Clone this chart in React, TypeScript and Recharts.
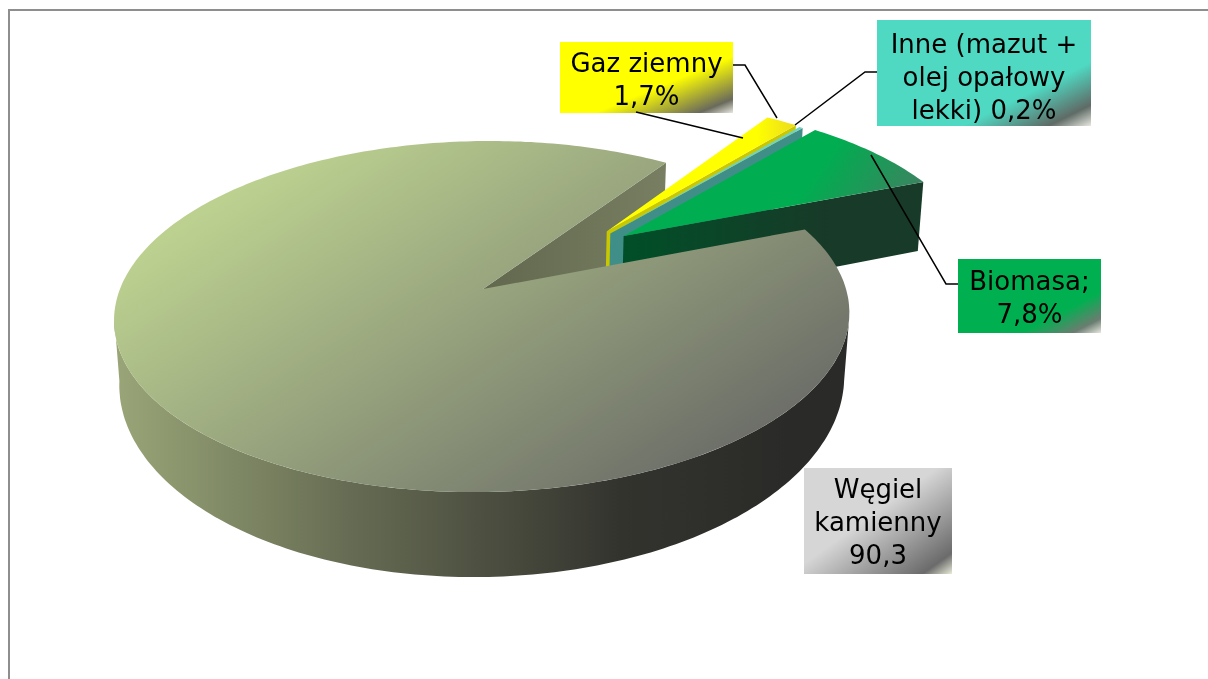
import { PieChart, Pie } from "recharts"

// Struktura zużycia paliw (%)
const categories = ["Węgiel kamienny", "Gaz ziemny", "Inne", "Biomasa"]
const values = [90.3, 1.7, 0.2, 7.8]
const labelLines = [
  ["Węgiel", "kamienny", "90,3"],
  ["Gaz ziemny", "1,7%"],
  ["Inne (mazut +", "olej opałowy", "lekki) 0,2%"],
  ["Biomasa;", "7,8%"],
]

const chartData = categories.map((name, i) => ({ name, value: values[i] }))

// page offset of the svg (body margin + frame)
const OX = 10
const OY = 11

// pseudo-3D camera for the pie
const TILT_B = 171.2
const PERSP_K = -0.157
const PERSP_M = 0.014
const DEPTH = 76
const SHEAR = -8
// the lower edge of the round wall bulges a bit more than a plain offset
const RIM_STRETCH = 1.08
const RIM_DEPTH = 62

// explosion of each slice, in radius units
const explode = [
  [0, 0],
  [0.352, 0.355],
  [0.362, 0.342],
  [0.4, 0.325],
]

const topFill = ["url(#coalTop)", "url(#gasTop)", "#6fd3c3", "url(#bioTop)"]
const faceFill = ["url(#coalFace)", "#c9c800", "#3f8f88", "url(#bioFace)"]

const boxes = [
  { x: 804, y: 468, w: 148, h: 106, fill: "url(#boxCoal)", base: 498, step: 33 },
  { x: 560, y: 42, w: 173, h: 71, fill: "url(#boxGas)", base: 72, step: 33 },
  { x: 877, y: 20, w: 214, h: 106, fill: "url(#boxOther)", base: 53, step: 33 },
  { x: 958, y: 259, w: 143, h: 74, fill: "url(#boxBio)", base: 290, step: 33 },
]

const leaders = [
  [],
  [
    [[733, 65], [745, 65], [777, 118]],
    [[636, 112], [743, 138]],
  ],
  [[[877, 72], [865, 72], [795, 125]]],
  [[[958, 284], [946, 284], [871, 155]]],
]

function project(cx: number, cy: number, r: number, u: number, up: number, z: number) {
  const v = -up
  const w = 1 + PERSP_K * v + PERSP_M * z
  return [cx + (r * u + SHEAR * v) / w, cy + (TILT_B * v + DEPTH * z) / w]
}

function toPath(pts: number[][]) {
  return "M" + pts.map((p) => p[0].toFixed(1) + " " + p[1].toFixed(1)).join("L") + "Z"
}

function rimPoint(cx: number, cy: number, r: number, a: number, z: number, e: number[]) {
  const rad = (a * Math.PI) / 180
  return project(cx, cy, r, e[0] + Math.cos(rad), e[1] + Math.sin(rad), z)
}

function arcPoints(cx: number, cy: number, r: number, from: number, to: number, z: number, e: number[]) {
  const n = Math.max(2, Math.ceil(Math.abs(to - from)))
  const pts = []
  for (let i = 0; i <= n; i++) pts.push(rimPoint(cx, cy, r, from + ((to - from) * i) / n, z, e))
  return pts
}

function lowerRim(cx: number, cy: number, r: number, from: number, to: number) {
  const n = Math.ceil(Math.abs(to - from))
  const pts = []
  for (let i = 0; i <= n; i++) {
    const rad = ((from + ((to - from) * i) / n) * Math.PI) / 180
    const v = -Math.sin(rad)
    const w = 1 + PERSP_K * v + PERSP_M
    pts.push([cx + (r * Math.cos(rad) + SHEAR * v) / w, cy + (TILT_B * RIM_STRETCH * v + RIM_DEPTH) / w])
  }
  return pts
}

// layer 0: side walls of the big slice + the exploded slices; layer 1: top of the big slice
function SliceShape(props: any, layer: number) {
  const { cx, cy, outerRadius: r, startAngle, endAngle, index } = props
  const i = index ?? categories.indexOf(props.name)
  const e = explode[i]
  const apex = project(cx, cy, r, e[0], e[1], 0)
  const apexLow = project(cx, cy, r, e[0], e[1], 1)
  const top = [apex, ...arcPoints(cx, cy, r, startAngle, endAngle, 0, e)]
  if (layer === 1) {
    return i === 0 ? <path d={toPath(top)} fill={topFill[0]} stroke="none" /> : <g />
  }
  const face = [apex, rimPoint(cx, cy, r, endAngle, 0, e), rimPoint(cx, cy, r, endAngle, 1, e), apexLow]
  const rim =
    i === 0
      ? [...arcPoints(cx, cy, r, -9, -171, 0, e), ...lowerRim(cx, cy, r, -171, -9)]
      : null
  return (
    <g>
      <path d={toPath(face)} fill={faceFill[i]} />
      {rim && <path d={toPath(rim)} fill="url(#coalWall)" />}
      {i !== 0 && <path d={toPath(top)} fill={topFill[i]} />}
    </g>
  )
}

function BoxLabel(props: any) {
  const i = props.index
  const b = boxes[i]
  return (
    <g>
      <rect x={b.x - OX} y={b.y - OY} width={b.w} height={b.h} fill={b.fill} />
      {leaders[i].map((line, k) => (
        <polyline
          key={k}
          points={line.map((p) => `${p[0] - OX},${p[1] - OY}`).join(" ")}
          fill="none"
          stroke="#000"
          strokeWidth={1.5}
        />
      ))}
      <text textAnchor="middle" fontFamily="DejaVu Sans" fontSize={26} fill="#000">
        {labelLines[i].map((t, k) => (
          <tspan key={k} x={b.x + b.w / 2 - OX} y={b.base + k * b.step - OY}>
            {t}
          </tspan>
        ))}
      </text>
    </g>
  )
}

function boxGradient(id: string, base: string, mid: string, corner: string, solidTo: string) {
  return (
    <linearGradient id={id} x1="0" y1="0" x2="1" y2="1">
      <stop offset="0" stopColor={base} />
      <stop offset={solidTo} stopColor={base} />
      <stop offset="0.9" stopColor={mid} />
      <stop offset="1" stopColor={corner} />
    </linearGradient>
  )
}

export default function App() {
  return (
    <div
      style={{
        position: "fixed",
        left: 8,
        top: 9,
        width: 1200,
        height: 670,
        boxSizing: "border-box",
        borderTop: "2px solid #8e8e8e",
        borderLeft: "2px solid #8e8e8e",
        overflow: "hidden",
      }}
    >
      <PieChart width={1198} height={668} margin={{ top: 0, right: 0, bottom: 0, left: 0 }}>
        <defs>
          <linearGradient id="coalTop" gradientUnits="userSpaceOnUse" x1="120" y1="249" x2="406" y2="681">
            <stop offset="0" stopColor="#bcd190" />
            <stop offset="1" stopColor="#686966" />
          </linearGradient>
          <linearGradient id="coalWall" gradientUnits="userSpaceOnUse" x1="103" y1="0" x2="780" y2="0">
            <stop offset="0" stopColor="#9aa678" />
            <stop offset="0.35" stopColor="#666c53" />
            <stop offset="0.75" stopColor="#33332e" />
            <stop offset="1" stopColor="#2a2a28" />
          </linearGradient>
          <linearGradient id="coalFace" gradientUnits="userSpaceOnUse" x1="474" y1="0" x2="655" y2="0">
            <stop offset="0" stopColor="#62684e" />
            <stop offset="1" stopColor="#777e61" />
          </linearGradient>
          <linearGradient id="gasTop" gradientUnits="userSpaceOnUse" x1="594" y1="0" x2="785" y2="0">
            <stop offset="0.8" stopColor="#ffff00" />
            <stop offset="1" stopColor="#ecdc1e" />
          </linearGradient>
          <linearGradient id="bioTop" gradientUnits="userSpaceOnUse" x1="780" y1="110" x2="900" y2="190">
            <stop offset="0.35" stopColor="#00ad50" />
            <stop offset="1" stopColor="#3b8460" />
          </linearGradient>
          <linearGradient id="bioFace" gradientUnits="userSpaceOnUse" x1="612" y1="0" x2="820" y2="0">
            <stop offset="0" stopColor="#004f28" />
            <stop offset="1" stopColor="#183a28" />
          </linearGradient>
          {boxGradient("boxGas", "#ffff00", "#6a6a5c", "#e8e8e0", "0.6")}
          {boxGradient("boxOther", "#4fd8c2", "#5f6b66", "#e8e8e0", "0.7")}
          {boxGradient("boxBio", "#00b050", "#6a7d70", "#e8e8e0", "0.72")}
          {boxGradient("boxCoal", "#d6d6d6", "#6b6b6b", "#e8ecd8", "0.45")}
        </defs>
        <Pie
          data={chartData}
          dataKey="value"
          nameKey="name"
          cx={483 - OX}
          cy={289 - OY}
          outerRadius={363}
          startAngle={21.6}
          endAngle={-338.4}
          stroke="none"
          label={false}
          labelLine={false}
          isAnimationActive={false}
          shape={(p: any) => SliceShape(p, 0)}
        />
        <Pie
          data={chartData}
          dataKey="value"
          nameKey="name"
          cx={483 - OX}
          cy={289 - OY}
          outerRadius={363}
          startAngle={21.6}
          endAngle={-338.4}
          stroke="none"
          label={BoxLabel}
          labelLine={false}
          isAnimationActive={false}
          shape={(p: any) => SliceShape(p, 1)}
        />
      </PieChart>
    </div>
  )
}
